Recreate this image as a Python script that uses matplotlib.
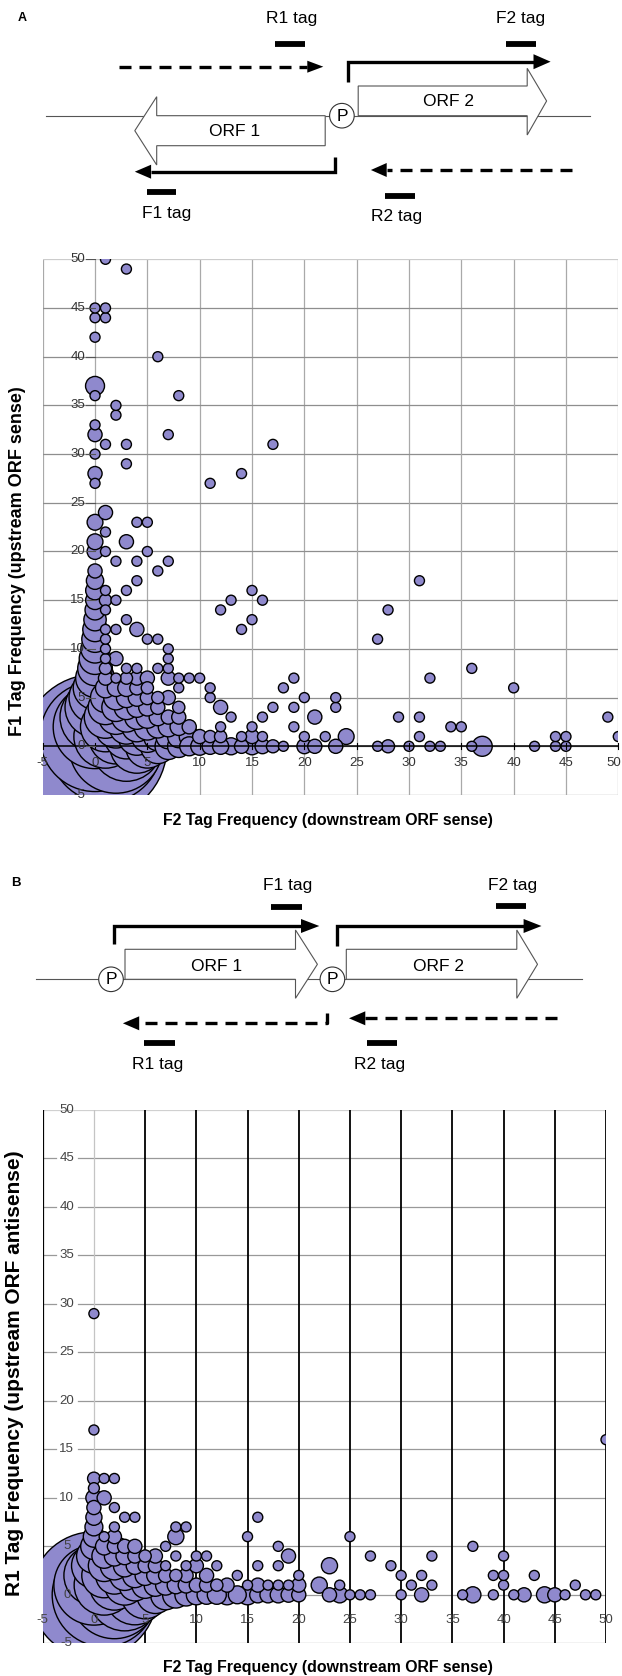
import numpy as np
import matplotlib
matplotlib.use("Agg")
import matplotlib.pyplot as plt
from matplotlib.patches import Polygon, Circle

plt.rcParams["font.family"] = ["Liberation Sans", "DejaVu Sans"]

# ------------------------------------------------------------------
# Panel A data  (x = F2 tag frequency, y = F1 tag frequency, n = genes)
# ------------------------------------------------------------------
# bubbles on the F1 = 0 row
a_row_x = [0, 1, 2, 3, 4, 5, 6, 7, 8, 9, 10, 11, 12, 13, 14, 15, 16, 17, 18,
           20, 21, 23, 27, 28, 30, 32, 33, 36, 37, 42, 44, 45]
a_row_n = [207, 125, 88, 49, 29, 19, 12, 7, 5, 3.6, 3.2, 2.6, 2.6, 2.9, 2, 2.9, 2.2, 1.7, 1,
           2.2, 2, 2, 1, 1.7, 1, 1, 1, 1, 4, 1, 1, 1]
# bubbles on the F2 = 0 column
a_col_y = [1, 2, 3, 4, 5, 6, 7, 8, 9, 10, 11, 12, 13, 14, 15, 16, 17, 18, 20, 21,
           23, 27, 28, 30, 32, 33, 36, 37, 42, 44, 45]
a_col_n = [121, 70, 49, 36, 27, 19, 15, 12, 10, 8, 7, 6, 5, 4, 3.5, 3.5, 3, 2, 2.5, 2.5,
           2.5, 1, 2, 1, 2, 1, 1, 3.6, 1, 1, 1]
# remaining bubbles (x, y, n)
a_points = [
    (1, 1, 40), (2, 1, 30), (3, 1, 20), (4, 1, 14), (5, 1, 10), (6, 1, 8), (7, 1, 6), (8, 1, 5),
    (9, 1, 4), (10, 1, 2), (11, 1, 1.5), (12, 1, 1.5), (14, 1, 1), (15, 1, 2), (16, 1, 1),
    (20, 1, 1), (22, 1, 1), (24, 1, 2.5), (31, 1, 1), (44, 1, 1), (45, 1, 1), (50, 1, 1),
    (1, 2, 25), (2, 2, 18), (3, 2, 12), (4, 2, 9), (5, 2, 7), (6, 2, 5), (7, 2, 4), (8, 2, 3),
    (9, 2, 2), (12, 2, 1), (15, 2, 1), (19, 2, 1), (34, 2, 1), (35, 2, 1),
    (1, 3, 18), (2, 3, 12), (3, 3, 9), (4, 3, 6), (5, 3, 5), (6, 3, 3), (7, 3, 2), (8, 3, 2),
    (13, 3, 1), (16, 3, 1), (21, 3, 2), (29, 3, 1), (31, 3, 1), (49, 3, 1),
    (1, 4, 12), (2, 4, 8), (3, 4, 6), (4, 4, 4), (5, 4, 3), (6, 4, 2), (8, 4, 1.5), (12, 4, 2),
    (17, 4, 1), (19, 4, 1), (23, 4, 1),
    (1, 5, 9), (2, 5, 6), (3, 5, 4), (4, 5, 3), (5, 5, 2), (6, 5, 1.5), (7, 5, 2), (11, 5, 1),
    (20, 5, 1), (23, 5, 1),
    (1, 6, 4), (2, 6, 3), (3, 6, 3), (4, 6, 2), (5, 6, 1.5), (8, 6, 1), (11, 6, 1), (18, 6, 1),
    (40, 6, 1),
    (1, 7, 2), (2, 7, 1), (3, 7, 1.5), (4, 7, 2), (5, 7, 2), (7, 7, 2), (8, 7, 1), (9, 7, 1),
    (10, 7, 1), (19, 7, 1), (32, 7, 1),
    (1, 8, 1.5), (3, 8, 1), (4, 8, 1), (6, 8, 1), (7, 8, 1), (36, 8, 1),
    (1, 9, 1), (2, 9, 2), (7, 9, 1), (1, 10, 1), (7, 10, 1),
    (1, 11, 1), (5, 11, 1), (6, 11, 1), (27, 11, 1),
    (1, 12, 1), (2, 12, 1), (4, 12, 2), (14, 12, 1), (3, 13, 1), (15, 13, 1),
    (1, 14, 1), (12, 14, 1), (28, 14, 1), (1, 15, 1.5), (2, 15, 1), (13, 15, 1), (16, 15, 1),
    (1, 16, 1), (3, 16, 1), (15, 16, 1), (4, 17, 1), (31, 17, 1), (6, 18, 1),
    (2, 19, 1), (4, 19, 1), (7, 19, 1), (1, 20, 1), (5, 20, 1), (3, 21, 2), (1, 22, 1),
    (4, 23, 1), (5, 23, 1), (1, 24, 2), (11, 27, 1), (14, 28, 1), (3, 29, 1), (1, 31, 1),
    (3, 31, 1), (17, 31, 1), (7, 32, 1), (2, 34, 1), (2, 35, 1), (8, 36, 1), (6, 40, 1),
    (1, 44, 1), (1, 45, 1), (3, 49, 1), (1, 50, 1),
]

# ------------------------------------------------------------------
# Panel B data  (x = F2 tag frequency, y = R1 tag frequency, n = genes)
# ------------------------------------------------------------------
b_row_x = [0, 1, 2, 3, 4, 5, 6, 7, 8, 9, 10, 11, 12, 13, 14, 15, 16, 17, 18, 19, 20,
           23, 24, 25, 26, 27, 30, 32, 36, 37, 39, 41, 42, 44, 45, 46, 48, 49]
b_row_n = [159, 108, 77, 52, 36, 23, 14, 9, 7, 5, 4, 3.6, 3.6, 4, 3.2, 4, 2.6, 2.6, 2.6, 2.2, 2,
           2, 2.6, 1, 1, 1, 1, 2, 1, 2.6, 1, 1, 2, 2.6, 2, 1, 1, 1]
b_col_y = [1, 2, 3, 4, 5, 6, 7, 8, 9, 10, 11, 12, 17, 29]
b_col_n = [64, 36, 20, 12, 7, 4.5, 3.2, 2.6, 2, 2.6, 1.2, 1.6, 1, 1]
b_points = [
    (1, 1, 36), (2, 1, 25), (3, 1, 16), (4, 1, 10), (5, 1, 7), (6, 1, 5), (7, 1, 4), (8, 1, 3),
    (9, 1, 2.5), (10, 1, 2), (11, 1, 2), (12, 1, 1.5), (13, 1, 2), (15, 1, 1), (16, 1, 2),
    (17, 1, 1), (18, 1, 1), (19, 1, 1), (20, 1, 2), (22, 1, 2.6), (24, 1, 1), (31, 1, 1),
    (33, 1, 1), (40, 1, 1), (47, 1, 1),
    (1, 2, 20), (2, 2, 14), (3, 2, 9), (4, 2, 6), (5, 2, 4), (6, 2, 3), (7, 2, 2), (8, 2, 1.5),
    (9, 2, 2), (11, 2, 2), (14, 2, 1), (20, 2, 1), (30, 2, 1), (32, 2, 1), (39, 2, 1),
    (40, 2, 1), (43, 2, 1),
    (1, 3, 10), (2, 3, 8), (3, 3, 5), (4, 3, 3), (5, 3, 2), (6, 3, 2), (7, 3, 1), (9, 3, 1),
    (10, 3, 2), (12, 3, 1), (16, 3, 1), (18, 3, 1), (23, 3, 2.6), (29, 3, 1),
    (1, 4, 6), (2, 4, 4), (3, 4, 3), (4, 4, 2), (5, 4, 1.5), (6, 4, 2), (8, 4, 1), (10, 4, 1),
    (11, 4, 1), (19, 4, 2), (27, 4, 1), (33, 4, 1), (40, 4, 1),
    (1, 5, 3), (2, 5, 2), (3, 5, 2), (4, 5, 2), (7, 5, 1), (18, 5, 1), (37, 5, 1),
    (1, 6, 1), (2, 6, 2), (8, 6, 2.6), (15, 6, 1), (25, 6, 1),
    (2, 7, 1), (8, 7, 1), (9, 7, 1), (3, 8, 1), (4, 8, 1), (16, 8, 1), (2, 9, 1),
    (1, 10, 2), (1, 12, 1), (2, 12, 1), (50, 16, 1),
]

ticks = list(range(-5, 55, 5))

# ------------------------------------------------------------------
W, H = 622, 1676
fig = plt.figure(figsize=(W / 100, H / 100), dpi=100)
dax = fig.add_axes([0, 0, 1, 1])
dax.set_xlim(0, W)
dax.set_ylim(H, 0)
dax.axis("off")

FILL = "#8F89CD"
S_UNIT = 51.84  # marker area (pt^2) for one gene


def collect(row_x, row_n, col_y, col_n, pts):
    xs = list(row_x) + [0] * len(col_y) + [p[0] for p in pts]
    ys = [0] * len(row_x) + list(col_y) + [p[1] for p in pts]
    ns = list(row_n) + list(col_n) + [p[2] for p in pts]
    return np.array(xs, float), np.array(ys, float), np.array(ns, float)


def axes_px(left, top, right, bottom):
    ax = fig.add_axes([left / W, 1 - bottom / H, (right - left) / W, (bottom - top) / H])
    ax.set_xlim(-5, 50)
    ax.set_ylim(-5, 50)
    ax.axis("off")
    return ax


def bubbles(ax, xs, ys, ns):
    o = np.argsort(-ns, kind="stable")
    ax.scatter(xs[o], ys[o], s=ns[o] * S_UNIT, c=FILL, edgecolors="black",
               linewidths=1.0, zorder=3)


TICKFS = 9.5

# ---------------- Panel A scatter ----------------
axA = axes_px(42.7, 259.3, 618.3, 795)
for v in ticks:
    axA.axvline(v, color="#a9a9a9", lw=0.9, zorder=1)
    if v < 50:
        axA.axhline(v, color="#8e8e8e", lw=0.9, zorder=1)
axA.axhline(50, color="#cccccc", lw=0.9, zorder=1)
xa, ya, na = collect(a_row_x, a_row_n, a_col_y, a_col_n, a_points)
bubbles(axA, xa, ya, na)
axA.axhline(0, color="black", lw=1.1, zorder=4)
for v in ticks:
    axA.plot([v, v], [-0.3, 0.3], color="black", lw=0.8, zorder=4, clip_on=False)
    axA.plot([-0.9, 0], [v, v], color="#555555", lw=0.8, zorder=4)
    axA.text(min(v, 49.55), -1.7, str(v), ha="center", va="center", fontsize=TICKFS,
             color="#333333", zorder=6)
    axA.text(-0.95, v, str(v), ha="right", va="center", fontsize=TICKFS, color="#333333", zorder=6)

# ---------------- Panel B scatter ----------------
axB = axes_px(42.7, 1110, 606, 1643.3)
for v in ticks:
    if v < 50:
        axB.plot([-5, -3.75], [v, v], color="#999999", lw=0.9, zorder=1)
        axB.plot([-1.55, 50], [v, v], color="#999999", lw=0.9, zorder=1)
axB.axhline(50, color="#d0d0d0", lw=0.9, zorder=1)
axB.axvline(0, color="#c4c4c4", lw=0.9, zorder=1)
axB.axvline(-5, color="black", lw=1.6, zorder=2)
for v in ticks[2:]:
    axB.axvline(v, color="black", lw=1.3, zorder=2)
xb, yb, nb = collect(b_row_x, b_row_n, b_col_y, b_col_n, b_points)
bubbles(axB, xb, yb, nb)
for v in ticks:
    axB.text(v, -2.6, str(v), ha="center", va="center", fontsize=TICKFS, color="#444444", zorder=6)
    axB.text(-2.65, v, str(v), ha="center", va="center", fontsize=TICKFS, color="#444444", zorder=6)

# ---------------- axis titles ----------------
dax.text(328, 820, "F2 Tag Frequency (downstream ORF sense)", ha="center", va="center",
         fontsize=11.4, fontweight="bold")
dax.text(18, 561, "F1 Tag Frequency (upstream ORF sense)", ha="center", va="center",
         rotation=90, fontsize=13, fontweight="bold")
dax.text(328, 1667, "F2 Tag Frequency (downstream ORF sense)", ha="center", va="center",
         fontsize=11.4, fontweight="bold")
dax.text(15, 1373, "R1 Tag Frequency (upstream ORF antisense)", ha="center", va="center",
         rotation=90, fontsize=15, fontweight="bold")


# ---------------- schematic helpers ----------------
def arrow(points, tip, direction, dashed=False, head_len=16, head_half=7):
    xs, ys = zip(*points)
    ls = (0, (3.6, 2.4)) if dashed else "-"
    dax.plot(xs, ys, color="black", lw=2.4, ls=ls, solid_capstyle="butt",
             solid_joinstyle="miter", dash_capstyle="butt")
    tx, ty = tip
    bx = tx - direction * head_len
    dax.add_patch(Polygon([(tx, ty), (bx, ty - head_half), (bx, ty + head_half)],
                          closed=True, fc="black", ec="black", lw=0))


def tagbar(x0, x1, y):
    dax.plot([x0, x1], [y, y], color="black", lw=4.2, solid_capstyle="butt")


def orf(points):
    dax.add_patch(Polygon(points, closed=True, fc="white", ec="#555555", lw=0.8, zorder=2))


def promoter(x, y):
    dax.add_patch(Circle((x, y), 12.3, fc="white", ec="#333333", lw=0.8, zorder=3))
    dax.text(x, y + 0.5, "P", ha="center", va="center", fontsize=12.5, zorder=4)


TXT = dict(ha="center", va="center", fontsize=12.5)

# ---------------- Schematic A ----------------
dax.text(22, 18, "A", ha="center", va="center", fontsize=9, fontweight="bold")
dax.plot([46, 590], [115.7, 115.7], color="#555555", lw=0.8, zorder=1)
orf([(325.2, 115.7), (156.7, 115.7), (156.7, 96.7), (134.8, 130.7), (156.7, 165),
     (156.7, 145.7), (325.2, 145.7)])
orf([(358.2, 86), (527.2, 86), (527.2, 68.3), (546.6, 101), (527.2, 135), (527.2, 115.7),
     (358.2, 115.7)])
promoter(341.9, 115.7)
dax.text(234.1, 131.7, "ORF 1", **TXT)
dax.text(448.3, 101.7, "ORF 2", **TXT)
arrow([(119, 66.7), (307.4, 66.7)], (323.3, 66.7), 1, dashed=True, head_len=16, head_half=6)
arrow([(347.8, 82.3), (347.8, 61.7), (533.5, 61.7)], (550.6, 61.7), 1, head_len=17.1, head_half=7.5)
arrow([(335.2, 156.7), (335.2, 171.7), (151.1, 171.7)], (134.8, 171.7), -1, head_len=16.3, head_half=7)
arrow([(572.4, 170), (386.8, 170)], (370.9, 170), -1, dashed=True, head_len=15.8, head_half=7)
tagbar(274.5, 304.6, 44.3)
tagbar(505.8, 535.5, 44.3)
tagbar(146.7, 176.4, 191.7)
tagbar(384.7, 414.7, 196)
dax.text(291.6, 19, "R1 tag", **TXT)
dax.text(520.9, 19, "F2 tag", **TXT)
dax.text(166.6, 213.3, "F1 tag", **TXT)
dax.text(396.6, 216, "R2 tag", **TXT)

# ---------------- Schematic B ----------------
dax.text(15.8, 883.3, "B", ha="center", va="center", fontsize=9.5, fontweight="bold")
dax.plot([36, 582.3], [979.3, 979.3], color="#555555", lw=0.8, zorder=1)
orf([(125, 949.3), (295.5, 949.3), (295.5, 930), (317.4, 964.3), (295.5, 998.3),
     (295.5, 979.3), (125, 979.3)])
orf([(346.3, 949.3), (516.8, 949.3), (516.8, 930), (537.5, 964.3), (516.8, 998.3),
     (516.8, 979.3), (346.3, 979.3)])
promoter(111, 979.3)
promoter(332.4, 979.3)
dax.text(216.2, 966, "ORF 1", **TXT)
dax.text(438.3, 966, "ORF 2", **TXT)
arrow([(113.9, 944), (113.9, 926), (301, 926)], (319.3, 926), 1, head_len=18.3, head_half=7)
arrow([(337.1, 946), (337.1, 926), (523.6, 926)], (541.5, 926), 1, head_len=17.9, head_half=7)
arrow([(327.3, 1013.3), (327.3, 1023.3), (139.2, 1023.3)], (122.9, 1023.3), -1, dashed=True,
      head_len=16.3, head_half=7)
arrow([(556.6, 1018.3), (365.3, 1018.3)], (349, 1018.3), -1, dashed=True, head_len=16.3,
      head_half=7)
tagbar(270.5, 301.5, 907.3)
tagbar(495.9, 526.3, 905.7)
tagbar(143.6, 174.6, 1043.3)
tagbar(366.9, 396.6, 1043.3)
dax.text(287.6, 885, "F1 tag", **TXT)
dax.text(512.5, 885, "F2 tag", **TXT)
dax.text(157.4, 1064, "R1 tag", **TXT)
dax.text(379.6, 1064, "R2 tag", **TXT)

fig.savefig("out.png", dpi=100)
